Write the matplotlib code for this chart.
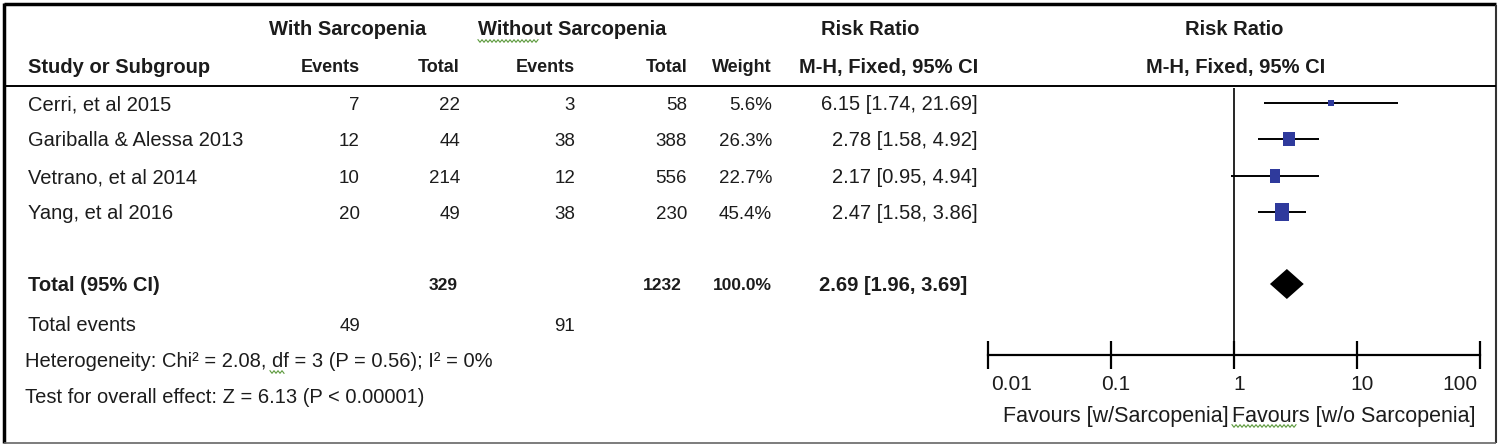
#!/usr/bin/env python3
import numpy as np
import matplotlib
matplotlib.use("Agg")
import matplotlib.pyplot as plt
import matplotlib.transforms as mtransforms
from matplotlib.path import Path
from matplotlib.ticker import NullLocator

# study data
studies = ["Cerri, et al 2015", "Gariballa & Alessa 2013", "Vetrano, et al 2014", "Yang, et al 2016"]
events_sarc = [7, 12, 10, 20]
total_sarc = [22, 44, 214, 49]
events_nosarc = [3, 38, 12, 38]
total_nosarc = [58, 388, 556, 230]
weights = [5.6, 26.3, 22.7, 45.4]
rr = [6.15, 2.78, 2.17, 2.47]
rr_low = [1.74, 1.58, 0.95, 1.58]
rr_high = [21.69, 4.92, 4.94, 3.86]

# pooled result
pooled_total_sarc = 329
pooled_total_nosarc = 1232
pooled_weight = 100.0
pooled_rr = 2.69
pooled_low = 1.96
pooled_high = 3.69
pooled_events_sarc = 49
pooled_events_nosarc = 91
heterogeneity = "Heterogeneity: Chi\u00b2 = 2.08, df = 3 (P = 0.56); I\u00b2 = 0%"
overall_effect = "Test for overall effect: Z = 6.13 (P < 0.00001)"

axis_ticks = [0.01, 0.1, 1, 10, 100]
axis_labels = ["0.01", "0.1", "1", "10", "100"]

FONT = ["Liberation Sans", "DejaVu Sans"]
TXT = "#1c1c1c"
BLUE = "#2f3a9c"
FS = 14.5
NUM = 13.5

W, H = 1500, 447
fig = plt.figure(figsize=(W / 100, H / 100), dpi=100)
fig.patch.set_facecolor("white")
ax = fig.add_axes([0, 0, 1, 1])
ax.set_xlim(0, W)
ax.set_ylim(H, 0)
ax.axis("off")


def txt(x, y, s, ha="left", bold=False, size=FS):
    # y is the visual middle of the capitals; put the baseline half a cap below it
    ax.text(x, y + 0.36 * size * 100 / 72, s, ha=ha, va="baseline", fontsize=size, color=TXT,
            fontweight="bold" if bold else "normal", family=FONT)


def squiggle(x0, x1, y):
    xs = np.arange(x0, x1, 2.0)
    ys = y + np.where(np.arange(len(xs)) % 2 == 0, -1.3, 1.3)
    ax.plot(xs, ys, color="#5c9a3c", lw=0.8)


# frame
ax.plot([4, 1496], [3.5, 3.5], color="black", lw=2.5, solid_capstyle="butt")
ax.plot([4, 4], [3, 443], color="black", lw=2.5, solid_capstyle="butt")
ax.plot([1496, 1496], [5, 443], color="#333333", lw=1.5, solid_capstyle="butt")
ax.plot([4, 1496], [443, 443], color="#666666", lw=1.2, solid_capstyle="butt")
ax.plot([5, 1495], [86, 86], color="black", lw=1.4)

# headers
txt(348, 28, "With Sarcopenia", ha="center", bold=True)
txt(572, 28, "Without Sarcopenia", ha="center", bold=True)
squiggle(478, 540, 41)
txt(870, 28, "Risk Ratio", ha="center", bold=True)
txt(1234, 28, "Risk Ratio", ha="center", bold=True)

txt(28, 66, "Study or Subgroup", bold=True)
sub = 13
txt(360, 66, "Events", ha="right", bold=True, size=sub)
txt(460, 66, "Total", ha="right", bold=True, size=sub)
txt(575, 66, "Events", ha="right", bold=True, size=sub)
txt(687, 66, "Total", ha="right", bold=True, size=sub)
txt(772, 66, "Weight", ha="right", bold=True, size=sub)
txt(978, 66, "M-H, Fixed, 95% CI", ha="right", bold=True)
txt(1236, 66, "M-H, Fixed, 95% CI", ha="center", bold=True)

row_y = [103, 139, 176, 212]
total_y = 284
for i, name in enumerate(studies):
    y = row_y[i]
    txt(28, y, name)
    txt(360, y, str(events_sarc[i]), ha="right", size=NUM)
    txt(460, y, str(total_sarc[i]), ha="right", size=NUM)
    txt(575, y, str(events_nosarc[i]), ha="right", size=NUM)
    txt(687, y, str(total_nosarc[i]), ha="right", size=NUM)
    txt(772, y, f"{weights[i]:.1f}%", ha="right", size=NUM)
    txt(978, y, f"{rr[i]:.2f} [{rr_low[i]:.2f}, {rr_high[i]:.2f}]", ha="right")

txt(28, total_y, "Total (95% CI)", bold=True)
txt(458, total_y, str(pooled_total_sarc), ha="right", bold=True, size=12.5)
txt(682, total_y, str(pooled_total_nosarc), ha="right", bold=True, size=12.5)
txt(772, total_y, f"{pooled_weight:.1f}%", ha="right", bold=True, size=12.5)
txt(967, total_y, f"{pooled_rr:.2f} [{pooled_low:.2f}, {pooled_high:.2f}]", ha="right", bold=True)

txt(28, 324, "Total events")
txt(360, 324, str(pooled_events_sarc), ha="right", size=NUM)
txt(575, 324, str(pooled_events_nosarc), ha="right", size=NUM)
txt(25, 360, heterogeneity)
squiggle(270, 286, 372)
txt(25, 396, overall_effect)

# forest panel, y in the same pixel units as the text layer
x0_px, x1_px, top_px, axis_px = 988, 1480, 88, 355
fx = fig.add_axes([x0_px / W, (H - axis_px) / H, (x1_px - x0_px) / W, (axis_px - top_px) / H])
fx.patch.set_alpha(0)
fx.set_xscale("log")
fx.set_xlim(axis_ticks[0], axis_ticks[-1])
fx.set_ylim(axis_px, top_px)
for s in ["top", "left", "right"]:
    fx.spines[s].set_visible(False)
fx.spines["bottom"].set_linewidth(1.6)
fx.set_yticks([])
fx.xaxis.set_minor_locator(NullLocator())
fx.set_xticks(axis_ticks)
fx.tick_params(axis="x", direction="inout", length=20, width=1.6, labelbottom=False)

# tick labels: ends aligned inward, the middle ones nudged right like RevMan
lab_tr = mtransforms.blended_transform_factory(fx.transData, fx.transAxes)
n = len(axis_ticks)
for k, (t, lab) in enumerate(zip(axis_ticks, axis_labels)):
    if k == 0:
        ha, dx = "left", 3
    elif k == n - 1:
        ha, dx = "right", -2
    else:
        ha, dx = "center", 5
    tr = lab_tr + mtransforms.ScaledTranslation(dx / 100, 0, fig.dpi_scale_trans)
    fx.text(t, -35.5 / (axis_px - top_px), lab, transform=tr, ha=ha, va="baseline",
            fontsize=15, color=TXT, family=FONT, clip_on=False)

fx.axvline(1, color="black", lw=1.2)

box = Path([(-0.39, -0.5), (0.39, -0.5), (0.39, 0.5), (-0.39, 0.5), (-0.39, -0.5)],
           [Path.MOVETO, Path.LINETO, Path.LINETO, Path.LINETO, Path.CLOSEPOLY])
for i in range(len(studies)):
    y = row_y[i]
    fx.plot([rr_low[i], rr_high[i]], [y, y], color="black", lw=1.4, solid_capstyle="butt")
    h_px = 2.8 * np.sqrt(weights[i])
    fx.plot([rr[i]], [y], marker=box, markersize=h_px * 0.72,
            color=BLUE, markeredgewidth=0, linestyle="none")

fx.fill([pooled_low, pooled_rr, pooled_high, pooled_rr],
        [total_y, total_y - 15, total_y, total_y + 15], color="black", lw=0)

fav_base = 414 + 0.36 * 15.5 * 100 / 72
ax.text(1229, fav_base, "Favours [w/Sarcopenia]", ha="right", va="baseline",
        fontsize=15.5, color=TXT, family=FONT)
ax.text(1232, fav_base, "Favours [w/o Sarcopenia]", ha="left", va="baseline",
        fontsize=15.5, color=TXT, family=FONT)
squiggle(1232, 1298, 426)

fig.savefig("out.png", dpi=100)
